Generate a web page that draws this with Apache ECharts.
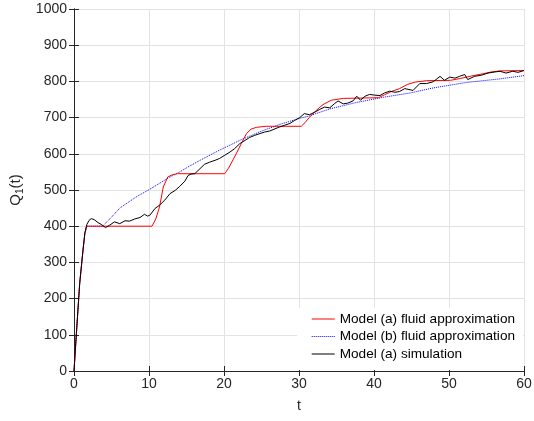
<!DOCTYPE html>
<html>
<head>
<meta charset="utf-8">
<script src="https://cdn.jsdelivr.net/npm/echarts@6/dist/echarts.min.js"></script>
<style>
  html, body { margin: 0; padding: 0; background: #fff; }
  #main { width: 534px; height: 421px; }
</style>
</head>
<body>
<div id="main"></div>
<script>
// Model (a) fluid approximation
var fluidAT = [0, 0.32, 0.76, 1.2, 1.45, 1.7, 10.4, 10.9, 11.4, 11.9, 12.5, 13.1, 13.8, 20.1, 20.6, 21.4, 22.3, 23, 23.6, 24.3, 25.6, 30.3, 30.8, 31.4, 32.3, 33.2, 34.3, 35.9, 40.6, 41.4, 42.3, 43.4, 44.5, 45.5, 47, 50.2, 51.5, 53, 54.5, 55.6, 56.8, 60];
var fluidAQ = [0, 104, 242, 334, 380, 400, 400, 420, 453, 508, 536, 542, 545, 545, 560, 591, 628, 656, 668, 673, 676, 676, 686, 701, 720, 736, 748, 753, 755, 763, 772, 780, 792, 798, 802, 803, 808, 815, 821, 826, 829, 830];
// Model (b) fluid approximation
var fluidBT = [0, 0.32, 0.76, 1.2, 1.45, 1.7, 3.8, 5, 6.1, 8.3, 10.1, 12.8, 14.1, 15.4, 16.8, 19.4, 22.1, 24.8, 27.4, 30.1, 31.4, 34.1, 37.7, 41.2, 44.8, 47.9, 52.3, 56.8, 60];
var fluidBQ = [0, 104, 242, 334, 380, 400, 400, 425, 450, 481, 502, 536, 550, 566, 582, 610, 637, 661, 681, 698, 705, 724, 742, 756, 768, 782, 797, 807, 816];
// Model (a) simulation
var simT = [0, 0.32, 0.76, 1.2, 1.45, 1.7, 2.0, 2.3, 2.7, 3.2, 3.7, 4.2, 4.76, 5.4, 6.1, 6.8, 7.4, 8.1, 8.8, 9.4, 9.8, 10.1, 10.8, 11.4, 12.1, 12.8, 13.5, 14.1, 14.8, 15.2, 15.6, 16.1, 16.8, 17.4, 18.1, 18.8, 19.4, 20.1, 20.8, 21.4, 22.1, 22.8, 23.4, 24.1, 24.8, 25.4, 26.1, 26.8, 27.4, 28.1, 28.8, 29.4, 30.1, 30.7, 31.4, 32.1, 32.7, 33.4, 34.1, 34.7, 35.2, 35.9, 36.5, 37.2, 37.7, 38.2, 38.8, 39.4, 40.1, 40.8, 41.4, 42.1, 42.8, 43.4, 44.1, 44.8, 45.2, 46.1, 47, 47.9, 48.8, 49.4, 50.1, 50.8, 51.4, 52.1, 52.5, 53.4, 54.3, 55.2, 56.1, 56.8, 57.6, 58.5, 59.2, 60];
var simQ = [0, 104, 242, 334, 382, 404, 416, 421, 418, 410, 404, 396, 403, 412, 407, 415, 414, 420, 424, 433, 428, 430, 449, 458, 472, 490, 499, 510, 525, 540, 544, 545, 559, 571, 577, 582, 587, 596, 605, 614, 628, 637, 645, 651, 656, 660, 663, 669, 674, 679, 684, 692, 700, 711, 708, 715, 722, 729, 727, 738, 746, 738, 740, 746, 759, 748, 759, 764, 762, 761, 768, 773, 770, 772, 780, 777, 775, 794, 794, 799, 814, 803, 812, 809, 814, 819, 805, 814, 817, 823, 826, 828, 823, 828, 825, 830];

function pairs(xs, ys) {
  return xs.map(function (x, i) { return [x, ys[i]]; });
}

var axisColor = '#262626';
var gridColor = '#e3e3e3';
var font = 'Liberation Sans, Arial, Helvetica, sans-serif';

var myChart = echarts.init(document.getElementById('main'));
myChart.setOption({
  animation: false,
  backgroundColor: '#fff',
  grid: { left: 74, right: 10, top: 9, bottom: 50, outerBoundsMode: 'none', containLabel: false },
  legend: {
    orient: 'vertical',
    right: 11,
    bottom: 51,
    backgroundColor: '#fff',
    padding: [4, 8, 9, 14],
    itemWidth: 23,
    itemHeight: 14,
    itemGap: 3.5,
    itemStyle: { opacity: 0 },
    lineStyle: { width: 1 },
    textStyle: { fontFamily: font, fontSize: 13.6, color: '#000' },
    data: ['Model (a) fluid approximation', 'Model (b) fluid approximation', 'Model (a) simulation']
  },
  xAxis: [{
    type: 'value',
    min: 0, max: 60, interval: 10,
    name: 't',
    nameLocation: 'middle',
    nameGap: 28,
    nameTextStyle: { fontFamily: font, fontSize: 14, color: axisColor },
    axisLine: { show: true, lineStyle: { color: axisColor } },
    axisTick: { show: true, inside: true, length: 5, lineStyle: { color: axisColor } },
    axisLabel: { fontFamily: font, fontSize: 14, color: axisColor, margin: 6 },
    splitLine: { show: true, lineStyle: { color: gridColor } }
  }, {
    type: 'value',
    position: 'top',
    min: 0, max: 60, interval: 10,
    axisLine: { show: true, lineStyle: { color: axisColor } },
    axisTick: { show: true, inside: true, length: 5, lineStyle: { color: axisColor } },
    axisLabel: { show: false },
    splitLine: { show: false }
  }],
  yAxis: [{
    type: 'value',
    min: 0, max: 1000, interval: 100,
    name: '{a|Q}{s|1}{a|(t)}',
    nameLocation: 'middle',
    nameRotate: 90,
    nameGap: 46,
    nameTextStyle: {
      fontFamily: font, color: axisColor,
      rich: {
        a: { fontFamily: font, fontSize: 15, lineHeight: 18, color: axisColor },
        s: { fontFamily: font, fontSize: 10, lineHeight: 10, padding: [8, 0, 0, 0], color: axisColor }
      }
    },
    axisLine: { show: true, lineStyle: { color: axisColor } },
    axisTick: { show: true, inside: true, length: 5, lineStyle: { color: axisColor } },
    axisLabel: {
      fontFamily: font, fontSize: 14, color: axisColor, margin: 7,
      formatter: function (v) { return String(v); }
    },
    splitLine: { show: true, lineStyle: { color: gridColor } }
  }, {
    type: 'value',
    position: 'right',
    min: 0, max: 1000, interval: 100,
    axisLine: { show: true, lineStyle: { color: axisColor } },
    axisTick: { show: true, inside: true, length: 5, lineStyle: { color: axisColor } },
    axisLabel: { show: false },
    splitLine: { show: false }
  }],
  series: [{
    name: 'Model (a) fluid approximation',
    type: 'line',
    symbol: 'none',
    data: pairs(fluidAT, fluidAQ),
    lineStyle: { color: '#ff0000', width: 1 },
    itemStyle: { color: '#ff0000' },
    z: 3
  }, {
    name: 'Model (b) fluid approximation',
    type: 'line',
    symbol: 'none',
    data: pairs(fluidBT, fluidBQ),
    lineStyle: { color: '#0000ff', width: 1, type: 'dotted' },
    itemStyle: { color: '#0000ff' },
    z: 2
  }, {
    name: 'Model (a) simulation',
    type: 'line',
    symbol: 'none',
    data: pairs(simT, simQ),
    lineStyle: { color: '#000000', width: 1 },
    itemStyle: { color: '#000000' },
    z: 4
  }]
});
</script>
</body>
</html>
